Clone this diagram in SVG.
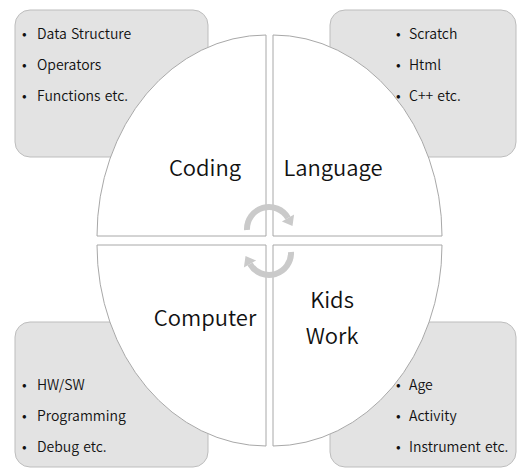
<svg xmlns="http://www.w3.org/2000/svg" width="517" height="468" viewBox="0 0 517 468">
<style>
.box{fill:#e3e3e3;stroke:#bdbdbd;stroke-width:1}
.q{fill:#ffffff;stroke:#a8a8a8;stroke-width:1}
.big{font-family:"Noto Sans CJK KR","Liberation Sans",sans-serif;font-size:22px;font-weight:350;fill:#111;text-anchor:middle}
.b{font-family:"Noto Sans CJK KR","Liberation Sans",sans-serif;font-size:14px;font-weight:350;fill:#111;word-spacing:1px}
.arc{fill:none;stroke:#cacaca;stroke-width:6}
.head{fill:#cacaca}
</style>
<rect width="517" height="468" fill="#ffffff"/>
<g id="box-tl"><rect class="box" x="15" y="10" width="193" height="147" rx="15"/></g>
<g id="box-tr"><rect class="box" x="330" y="10" width="186" height="147" rx="15"/></g>
<g id="box-bl"><rect class="box" x="15" y="322" width="193" height="145" rx="15"/></g>
<g id="box-br"><rect class="box" x="330" y="322" width="186" height="145" rx="15"/></g>
<g id="coding"><path class="q" d="M266,236 L97,236 A169,201 0 0 1 266,35 Z"/><text class="big" x="205" y="176">Coding</text></g>
<g id="language"><path class="q" d="M273,236 L273,35 A169,201 0 0 1 442,236 Z"/><text class="big" x="333" y="176">Language</text></g>
<g id="computer"><path class="q" d="M266,245 L97,245 A169,201 0 0 0 266,446 Z"/><text class="big" x="205" y="326">Computer</text></g>
<g id="kidswork"><path class="q" d="M273,245 L442,245 A169,201 0 0 1 273,446 Z"/><text class="big" x="332" y="308">Kids</text><text class="big" x="332" y="344">Work</text></g>
<g id="connectors">
<g id="arrow-top"><path class="arc" d="M247,230 A22,22 0 0 1 288,218"/><polygon class="head" points="294.1,214.5 281.9,221.5 292.5,226"/></g>
<g id="arrow-bottom" transform="rotate(180 269 241)"><path class="arc" d="M247,230 A22,22 0 0 1 288,218"/><polygon class="head" points="294.1,214.5 281.9,221.5 292.5,226"/></g>
</g>
<g id="list-tl" class="b">
<text x="22" y="39">•<tspan x="37">Data Structure</tspan></text>
<text x="22" y="70">•<tspan x="37">Operators</tspan></text>
<text x="22" y="101">•<tspan x="37">Functions etc.</tspan></text>
</g>
<g id="list-tr" class="b">
<text x="396" y="39">•<tspan x="409">Scratch</tspan></text>
<text x="396" y="70">•<tspan x="409">Html</tspan></text>
<text x="396" y="101">•<tspan x="409">C++ etc.</tspan></text>
</g>
<g id="list-bl" class="b">
<text x="22" y="390">•<tspan x="37">HW/SW</tspan></text>
<text x="22" y="421">•<tspan x="37">Programming</tspan></text>
<text x="22" y="452">•<tspan x="37">Debug etc.</tspan></text>
</g>
<g id="list-br" class="b">
<text x="396" y="390">•<tspan x="409">Age</tspan></text>
<text x="396" y="421">•<tspan x="409">Activity</tspan></text>
<text x="396" y="452">•<tspan x="409">Instrument etc.</tspan></text>
</g>
</svg>
